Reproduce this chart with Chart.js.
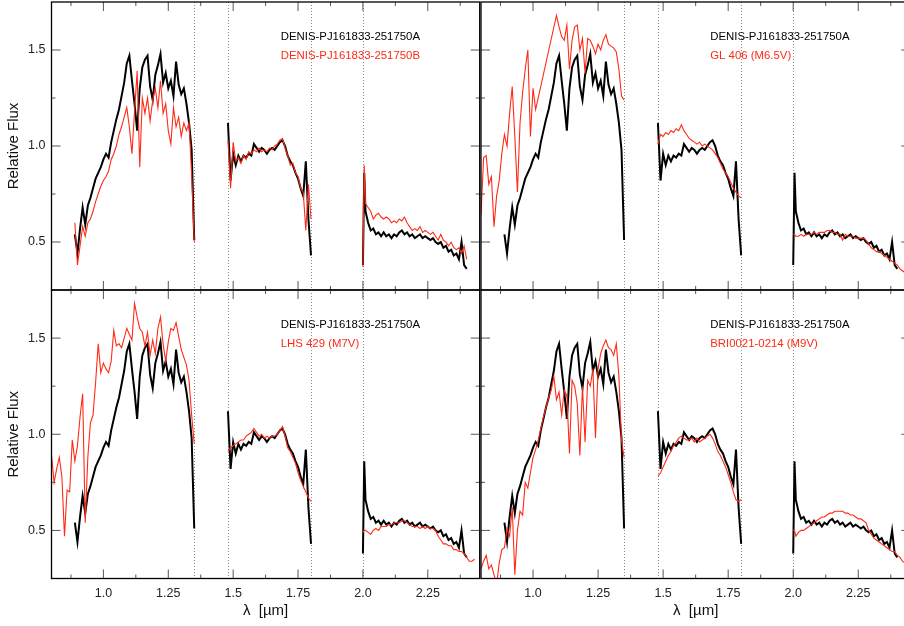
<!DOCTYPE html>
<html>
<head>
<meta charset="utf-8">
<script src="https://cdn.jsdelivr.net/npm/chart.js@4/dist/chart.umd.min.js"></script>
<style>
  html, body { margin: 0; padding: 0; background: #fff; width: 904px; height: 626px; overflow: hidden; }
  canvas { position: absolute; }
</style>
</head>
<body>
<canvas id="tl" width="486" height="296" style="left:0;top:0"></canvas>
<canvas id="tr" width="442" height="296" style="left:475px;top:0"></canvas>
<canvas id="bl" width="486" height="342" style="left:0;top:284px"></canvas>
<canvas id="br" width="442" height="342" style="left:475px;top:284px"></canvas>
<script>
// wavelength grids (micron) for the three bands
const WL_J = [0.80,0.81,0.82,0.83,0.84,0.85,0.86,0.87,0.88,0.89,0.90,0.91,0.92,0.93,0.94,0.95,0.96,0.97,0.98,0.99,
  1.00,1.01,1.02,1.03,1.04,1.05,1.06,1.07,1.08,1.09,1.10,1.11,1.12,1.13,1.14,1.15,1.16,1.17,1.18,1.19,
  1.20,1.21,1.22,1.23,1.24,1.25,1.26,1.27,1.28,1.29,1.30,1.31,1.32,1.33,1.34,1.35];
const WL_H = [1.48,1.49,1.50,1.51,1.52,1.53,1.54,1.55,1.56,1.57,1.58,1.59,1.60,1.61,1.62,1.63,1.64,1.65,1.66,1.67,
  1.68,1.69,1.70,1.71,1.72,1.73,1.74,1.75,1.76,1.77,1.78,1.79,1.80];
const WL_K = [2.00,2.005,2.01,2.02,2.03,2.04,2.05,2.06,2.07,2.08,2.09,2.10,2.11,2.12,2.13,2.14,2.15,2.16,2.17,2.18,2.19,2.20,
  2.21,2.22,2.23,2.24,2.25,2.26,2.27,2.28,2.29,2.30,2.31,2.32,2.33,2.34,2.35,2.36,2.37,2.38,2.39,2.40,2.41,2.42,2.43];

// DENIS-PJ161833-251750A (black, same in every panel)
const A_J = [null,null,null,null,null,null,null,null,null,
  0.54,0.44,0.57,0.68,0.59,0.69,0.73,0.78,0.83,0.86,
  0.89,0.93,0.96,0.94,1.02,1.08,1.14,1.19,1.26,1.33,
  1.43,1.47,1.34,1.22,1.08,1.30,1.41,1.45,1.47,1.31,
  1.24,1.37,1.42,1.48,1.33,1.38,1.30,1.34,1.26,1.44,
  1.32,1.27,1.30,1.22,1.12,0.98,0.51];
const A_H = [1.12,0.82,0.96,0.90,0.95,0.92,0.95,0.94,0.96,0.95,
  1.01,0.99,0.97,0.99,0.98,0.96,0.98,0.99,0.98,1.00,
  1.02,1.03,1.00,0.95,0.92,0.90,0.86,0.83,0.78,0.74,
  0.92,0.62,0.43];
const A_K = [0.38,0.86,0.66,
  0.60,0.56,0.57,0.54,0.55,0.53,0.55,0.53,0.54,
  0.52,0.54,0.53,0.55,0.56,0.54,0.55,0.53,0.54,0.52,
  0.53,0.54,0.52,0.53,0.52,0.51,0.52,0.50,0.49,0.50,
  0.47,0.48,0.45,0.46,0.43,0.44,0.41,0.50,0.38,0.36,
  null,null,null];

// DENIS-PJ161833-251750B
const B_J = [null,null,null,null,null,null,null,null,null,
  0.60,0.38,0.48,0.58,0.53,0.60,0.62,0.66,0.71,0.75,
  0.79,0.82,0.84,0.87,0.93,0.96,1.00,1.06,1.10,1.15,
  1.20,1.10,0.96,1.18,1.39,0.89,1.25,1.17,1.25,1.13,
  1.24,1.30,1.20,1.34,1.17,1.22,1.08,1.01,1.20,1.10,
  1.15,1.05,1.12,1.08,1.12,0.85,0.50];
const B_H = [1.03,0.78,1.02,0.92,0.94,0.91,0.95,0.93,0.97,0.96,
  0.98,0.97,0.99,0.97,0.98,0.97,0.99,0.98,1.00,1.01,
  1.03,1.04,0.99,0.95,0.90,0.91,0.86,0.84,0.78,0.76,
  0.56,0.80,0.62];
const B_K = [0.37,0.90,0.70,
  0.68,0.66,0.62,0.64,0.65,0.63,0.62,0.63,0.62,
  0.60,0.61,0.60,0.62,0.61,0.63,0.60,0.58,0.56,0.57,
  0.56,0.58,0.55,0.56,0.55,0.54,0.55,0.53,0.51,0.54,
  0.51,0.50,0.48,0.50,0.47,0.46,0.47,0.44,0.48,0.41,
  null,null,null];

// GL 406 (M6.5V)
const GL406_J = [0.64,0.94,0.95,0.80,0.84,0.58,0.74,0.82,0.96,1.06,
  1.00,1.17,1.31,1.05,0.76,1.12,1.28,1.40,1.50,1.05,
  1.30,1.19,null,null,null,null,null,null,null,1.68,
  1.62,1.57,1.55,1.63,1.40,1.55,1.62,1.63,1.50,1.56,
  1.38,1.56,1.55,1.52,1.48,1.53,1.50,1.55,1.58,1.53,
  1.52,1.51,1.49,1.40,1.26,1.24];
const GL406_H = [1.01,1.06,1.05,1.07,1.06,1.08,1.07,1.09,1.08,1.11,
  1.08,1.06,1.04,1.03,1.02,1.01,1.02,1.00,1.01,1.00,
  0.99,0.98,0.96,0.94,0.91,0.88,0.86,0.84,0.81,0.78,
  0.76,0.74,0.73];
const GL406_K = [0.54,0.54,0.53,
  0.53,0.54,0.53,0.54,0.54,0.54,0.55,0.54,0.55,
  0.55,0.55,0.56,0.56,0.55,0.55,0.54,0.54,0.51,0.54,
  0.53,0.53,0.53,0.52,0.52,0.52,0.52,0.51,0.49,0.47,
  0.46,0.45,0.45,0.44,0.43,0.42,0.41,0.40,0.39,0.38,
  0.36,0.35,0.34];

// LHS 429 (M7V)
const LHS429_J = [0.89,0.75,0.82,0.88,0.78,0.47,0.71,0.70,0.97,0.86,
  0.94,1.09,1.21,0.54,0.88,1.06,1.10,1.27,1.47,1.32,
  1.37,1.34,1.32,1.38,1.54,1.46,1.47,1.45,1.50,1.55,
  1.52,1.49,1.68,1.61,1.55,1.53,1.46,1.53,1.41,1.49,
  1.42,1.55,1.61,1.47,1.38,1.48,1.55,1.54,1.58,1.51,
  1.44,1.40,1.36,1.28,1.10,0.95];
const LHS429_H = [0.91,0.93,0.94,0.95,0.96,0.97,0.97,0.99,1.00,1.01,
  1.03,1.01,0.99,1.00,0.98,0.99,0.98,0.99,0.99,1.00,
  1.02,1.04,0.99,0.93,0.91,0.88,0.85,0.80,0.76,0.73,
  0.70,0.67,0.65];
const LHS429_K = [0.49,0.50,0.50,
  0.49,0.48,0.50,0.51,0.50,0.52,0.52,0.52,0.53,
  0.53,0.54,0.54,0.54,0.55,0.55,0.54,0.53,0.52,0.52,
  0.52,0.51,0.52,0.51,0.52,0.51,0.51,0.50,0.47,0.45,
  0.43,0.43,0.42,0.42,0.40,0.40,0.39,0.39,0.38,0.36,
  0.34,0.34,0.35];

// BRI0021-0214 (M9V)
const BRI_J = [0.30,0.34,0.37,0.30,0.32,0.27,0.22,0.33,0.40,0.41,
  0.51,0.47,0.62,0.27,0.50,0.60,0.58,0.75,0.72,0.80,
  0.88,0.92,0.97,1.03,1.09,1.14,1.19,1.23,1.30,1.18,
  1.22,1.10,1.23,1.20,0.90,1.28,1.25,1.16,0.89,1.25,
  0.96,1.28,1.25,1.34,0.98,1.34,1.42,1.46,1.49,1.45,
  1.44,1.41,1.47,1.30,0.97,0.88];
const BRI_H = [0.78,0.80,0.83,0.86,0.89,0.91,0.94,0.96,0.98,0.99,
  0.98,0.97,0.97,0.98,0.96,0.98,0.96,0.97,0.98,0.99,
  1.00,0.98,0.95,0.91,0.89,0.86,0.83,0.79,0.75,0.70,
  0.66,0.65,0.66];
const BRI_K = [0.50,0.50,0.47,
  0.49,0.50,0.50,0.51,0.52,0.53,0.54,0.55,0.56,
  0.57,0.57,0.58,0.59,0.59,0.60,0.60,0.60,0.60,0.59,
  0.59,0.58,0.58,0.57,0.56,0.56,0.55,0.54,0.50,0.48,
  0.46,0.45,0.44,0.43,0.42,0.41,0.40,0.39,0.39,0.37,
  0.36,0.34,0.33];

// axes
const X_MAJOR = [1.0, 1.25, 1.5, 1.75, 2.0, 2.25];
const X_LABELS = ['1.0', '1.25', '1.5', '1.75', '2.0', '2.25'];
const X_MINOR = [0.875, 1.125, 1.375, 1.625, 1.875, 2.125, 2.375];
const Y_MAJOR = [0.5, 1.0, 1.5];
const Y_LABELS = ['0.5', '1.0', '1.5'];
const Y_MINOR = [0.75, 1.25];
const DIVIDERS = [1.35, 1.48, 1.80, 2.00];

const NAME_A = 'DENIS-PJ161833-251750A';
const RED = 'rgb(255,42,22)';

Chart.defaults.font.family = "'Liberation Sans', Arial, Helvetica, sans-serif";
Chart.defaults.animation = false;

function bandSets(J, H, K, color, width, order) {
    return [[WL_J, J], [WL_H, H], [WL_K, K]].map(([wl, f]) => ({
        data: wl.map((x, i) => ({x: x, y: f[i]})),
        borderColor: color,
        borderWidth: width,
        pointRadius: 0,
        tension: 0,
        spanGaps: true,
        order: order
    }));
}

// frame, inward ticks, dotted band limits and the two labels
const panelFrame = {
    id: 'panelFrame',
    beforeDatasetsDraw(chart) {
        const {ctx, chartArea: a, scales: {x}} = chart;
        ctx.save();
        ctx.strokeStyle = '#8c8c8c';
        ctx.lineWidth = 1;
        ctx.setLineDash([1, 2]);
        DIVIDERS.forEach(v => {
            const px = Math.round(x.getPixelForValue(v)) + 0.5;
            ctx.beginPath();
            ctx.moveTo(px, a.top);
            ctx.lineTo(px, a.bottom);
            ctx.stroke();
        });
        ctx.restore();
    },
    afterDraw(chart, args, opts) {
        const {ctx, chartArea: a, scales: {x, y}} = chart;
        ctx.save();
        ctx.strokeStyle = '#555';
        ctx.lineWidth = 1;
        const tick = (vals, len) => {
            vals.forEach(v => {
                const px = x.getPixelForValue(v);
                ctx.beginPath();
                ctx.moveTo(px, a.bottom); ctx.lineTo(px, a.bottom - len);
                ctx.moveTo(px, a.top); ctx.lineTo(px, a.top + len);
                ctx.stroke();
            });
        };
        const ytick = (vals, len) => {
            vals.forEach(v => {
                const py = y.getPixelForValue(v);
                ctx.beginPath();
                ctx.moveTo(a.left, py); ctx.lineTo(a.left + len, py);
                ctx.moveTo(a.right, py); ctx.lineTo(a.right - len, py);
                ctx.stroke();
            });
        };
        tick(X_MAJOR, 9);
        tick(X_MINOR, 4);
        ytick(Y_MAJOR, 9);
        ytick(Y_MINOR, 4);

        ctx.strokeStyle = '#000';
        ctx.lineWidth = 1.3;
        ctx.strokeRect(a.left, a.top, a.right - a.left, a.bottom - a.top);

        ctx.font = "11.4px 'Liberation Sans', Arial, sans-serif";
        ctx.textBaseline = 'middle';
        ctx.textAlign = 'left';
        ctx.fillStyle = '#000';
        ctx.fillText(NAME_A, a.left + 229.2, a.top + 34.5);
        ctx.fillStyle = RED;
        ctx.fillText(opts.name, a.left + 229.2, a.top + 54.3);
        ctx.restore();
    }
};

function makePanel(id, other, showX, showY, padding) {
    const datasets = bandSets(other.J, other.H, other.K, RED, 1.1, 0)
        .concat(bandSets(A_J, A_H, A_K, '#000', 2, 1));
    new Chart(document.getElementById(id), {
        type: 'line',
        data: {datasets: datasets},
        options: {
            responsive: false,
            devicePixelRatio: 1,
            layout: {padding: padding},
            plugins: {
                legend: {display: false},
                tooltip: {enabled: false},
                panelFrame: {name: other.name}
            },
            scales: {
                x: {
                    type: 'linear', min: 0.8, max: 2.45,
                    display: showX,
                    afterBuildTicks: s => { s.ticks = X_MAJOR.map(v => ({value: v})); },
                    afterFit: s => {
                        s.height = showX ? 47.5 : 0;
                        s.paddingLeft = 0; s.paddingRight = 0;
                    },
                    ticks: {
                        callback: (v, i) => X_LABELS[i],
                        autoSkip: false, maxRotation: 0,
                        font: {size: 12.5}, color: '#222', padding: 7.5
                    },
                    grid: {display: false, drawTicks: false},
                    border: {display: false},
                    title: {display: true, text: 'λ  [µm]', font: {size: 15}, color: '#111', padding: {top: 0, bottom: 6.6}}
                },
                y: {
                    type: 'linear', min: 0.25, max: 1.75,
                    display: showY,
                    afterBuildTicks: s => { s.ticks = Y_MAJOR.map(v => ({value: v})); },
                    afterFit: s => {
                        s.width = showY ? 51.5 : 0;
                        s.paddingTop = 0; s.paddingBottom = 0;
                    },
                    ticks: {
                        callback: (v, i) => Y_LABELS[i],
                        font: {size: 12.5}, color: '#222', padding: 6
                    },
                    grid: {display: false, drawTicks: false},
                    border: {display: false},
                    title: {display: true, text: 'Relative Flux', font: {size: 15}, color: '#111', padding: {top: 5, bottom: 0}}
                }
            }
        },
        plugins: [panelFrame]
    });
}

makePanel('tl', {name: 'DENIS-PJ161833-251750B', J: B_J, H: B_H, K: B_K}, false, true,
    {left: 0, top: 2, right: 6.3, bottom: 6});
makePanel('tr', {name: 'GL 406 (M6.5V)', J: GL406_J, H: GL406_H, K: GL406_K}, false, false,
    {left: 6, top: 2, right: 6.7, bottom: 6});
makePanel('bl', {name: 'LHS 429 (M7V)', J: LHS429_J, H: LHS429_H, K: LHS429_K}, true, true,
    {left: 0, top: 6, right: 6.3, bottom: 0});
makePanel('br', {name: 'BRI0021-0214 (M9V)', J: BRI_J, H: BRI_H, K: BRI_K}, true, false,
    {left: 6, top: 6, right: 6.7, bottom: 0});
</script>
</body>
</html>
